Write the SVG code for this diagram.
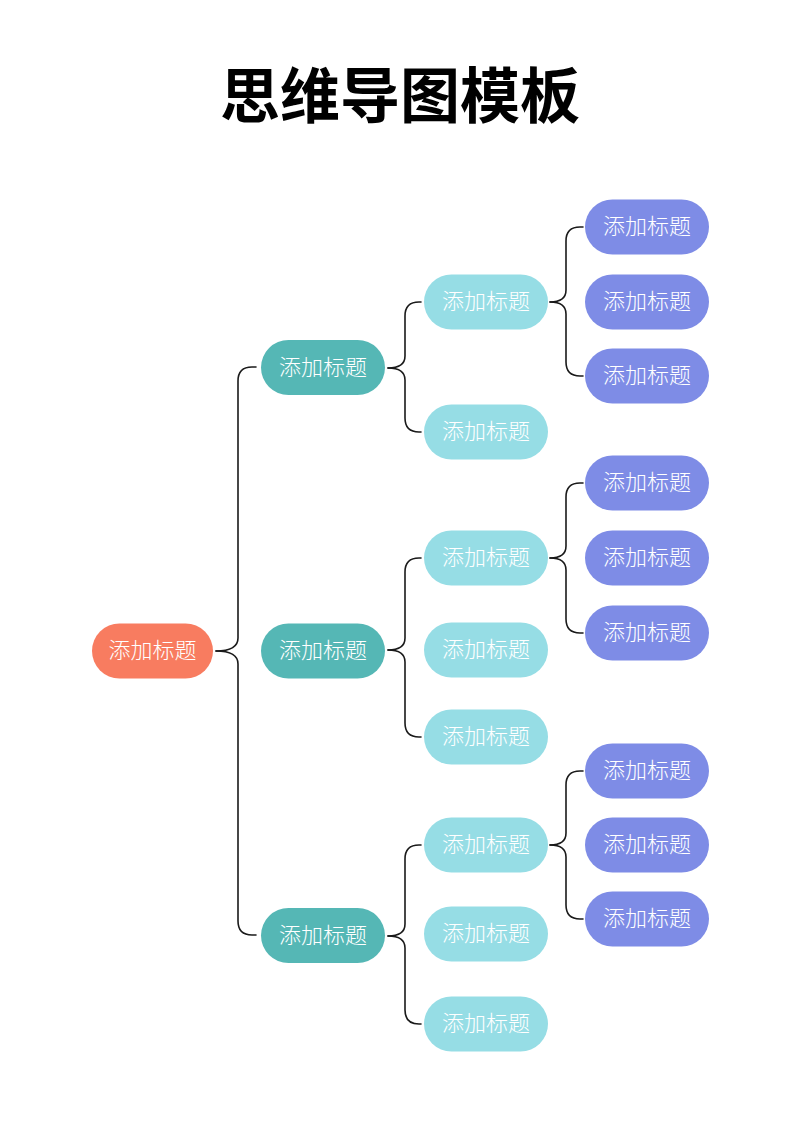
<svg xmlns="http://www.w3.org/2000/svg" width="800" height="1131" viewBox="0 0 800 1131">
<style>
.t{font-family:"Noto Sans CJK SC","Noto Sans",sans-serif;font-size:22px;fill:#ffffff;text-anchor:middle;font-weight:300}
.title{font-family:"Noto Sans CJK SC","Noto Sans",sans-serif;font-size:60px;font-weight:bold;fill:#000;text-anchor:middle}
.root{fill:#F87C60}
.l1{fill:#55B7B5}
.l2{fill:#96DDE5}
.l3{fill:#7E8CE6}
.c{fill:none;stroke:#1a1a1a;stroke-width:1.6;stroke-linecap:round}
</style>
<rect width="800" height="1131" fill="#ffffff"/>
<text class="title" x="400" y="118">思维导图模板</text>

<g id="connectors">
  <path class="c" d="M216,651 Q238,651 238,638 L238,381 Q238,367 252,367 L256,367"/>
  <path class="c" d="M216,651 Q238,651 238,664 L238,921 Q238,935 252,935 L256,935"/>
  <path class="c" d="M388,368 Q405,368 405,356 L405,316 Q405,302 419,302 L421,302"/>
  <path class="c" d="M388,368 Q405,368 405,380 L405,418 Q405,432 419,432 L421,432"/>
  <path class="c" d="M388,650 Q405,650 405,638 L405,572 Q405,558 419,558 L421,558"/>
  <path class="c" d="M388,650 Q405,650 405,662 L405,723 Q405,737 419,737 L421,737"/>
  <path class="c" d="M388,936 Q405,936 405,924 L405,859 Q405,845 419,845 L421,845"/>
  <path class="c" d="M388,936 Q405,936 405,948 L405,1010 Q405,1024 419,1024 L421,1024"/>
  <path class="c" d="M550,302 Q566,302 566,290 L566,241 Q566,227 580,227 L583,227"/>
  <path class="c" d="M550,302 Q566,302 566,314 L566,362 Q566,376 580,376 L583,376"/>
  <path class="c" d="M550,558 Q566,558 566,546 L566,497 Q566,483 580,483 L583,483"/>
  <path class="c" d="M550,558 Q566,558 566,570 L566,619 Q566,633 580,633 L583,633"/>
  <path class="c" d="M550,845 Q566,845 566,833 L566,785 Q566,771 580,771 L583,771"/>
  <path class="c" d="M550,845 Q566,845 566,857 L566,905 Q566,919 580,919 L583,919"/>
</g>

<g id="root"><rect class="root" x="92" y="623.5" width="121" height="55" rx="27.5"/><text class="t" x="152.5" y="658">添加标题</text></g>

<g id="n1"><rect class="l1" x="261" y="340" width="124" height="55" rx="27.5"/><text class="t" x="323" y="374.5">添加标题</text></g>
<g id="n2"><rect class="l1" x="261" y="623.5" width="124" height="55" rx="27.5"/><text class="t" x="323" y="658">添加标题</text></g>
<g id="n3"><rect class="l1" x="261" y="908" width="124" height="55" rx="27.5"/><text class="t" x="323" y="942.5">添加标题</text></g>

<g id="n1a"><rect class="l2" x="424" y="274.5" width="124" height="55" rx="27.5"/><text class="t" x="486" y="309">添加标题</text></g>
<g id="n1b"><rect class="l2" x="424" y="404.5" width="124" height="55" rx="27.5"/><text class="t" x="486" y="439">添加标题</text></g>
<g id="n2a"><rect class="l2" x="424" y="530.5" width="124" height="55" rx="27.5"/><text class="t" x="486" y="565">添加标题</text></g>
<g id="n2b"><rect class="l2" x="424" y="622.5" width="124" height="55" rx="27.5"/><text class="t" x="486" y="657">添加标题</text></g>
<g id="n2c"><rect class="l2" x="424" y="709.5" width="124" height="55" rx="27.5"/><text class="t" x="486" y="744">添加标题</text></g>
<g id="n3a"><rect class="l2" x="424" y="817.5" width="124" height="55" rx="27.5"/><text class="t" x="486" y="852">添加标题</text></g>
<g id="n3b"><rect class="l2" x="424" y="906.5" width="124" height="55" rx="27.5"/><text class="t" x="486" y="941">添加标题</text></g>
<g id="n3c"><rect class="l2" x="424" y="996.5" width="124" height="55" rx="27.5"/><text class="t" x="486" y="1031">添加标题</text></g>

<g id="n1a1"><rect class="l3" x="585" y="199.5" width="124" height="55" rx="27.5"/><text class="t" x="647" y="234">添加标题</text></g>
<g id="n1a2"><rect class="l3" x="585" y="274.5" width="124" height="55" rx="27.5"/><text class="t" x="647" y="309">添加标题</text></g>
<g id="n1a3"><rect class="l3" x="585" y="348.5" width="124" height="55" rx="27.5"/><text class="t" x="647" y="383">添加标题</text></g>
<g id="n2a1"><rect class="l3" x="585" y="455.5" width="124" height="55" rx="27.5"/><text class="t" x="647" y="490">添加标题</text></g>
<g id="n2a2"><rect class="l3" x="585" y="530.5" width="124" height="55" rx="27.5"/><text class="t" x="647" y="565">添加标题</text></g>
<g id="n2a3"><rect class="l3" x="585" y="605.5" width="124" height="55" rx="27.5"/><text class="t" x="647" y="640">添加标题</text></g>
<g id="n3a1"><rect class="l3" x="585" y="743.5" width="124" height="55" rx="27.5"/><text class="t" x="647" y="778">添加标题</text></g>
<g id="n3a2"><rect class="l3" x="585" y="817.5" width="124" height="55" rx="27.5"/><text class="t" x="647" y="852">添加标题</text></g>
<g id="n3a3"><rect class="l3" x="585" y="891.5" width="124" height="55" rx="27.5"/><text class="t" x="647" y="926">添加标题</text></g>
</svg>
